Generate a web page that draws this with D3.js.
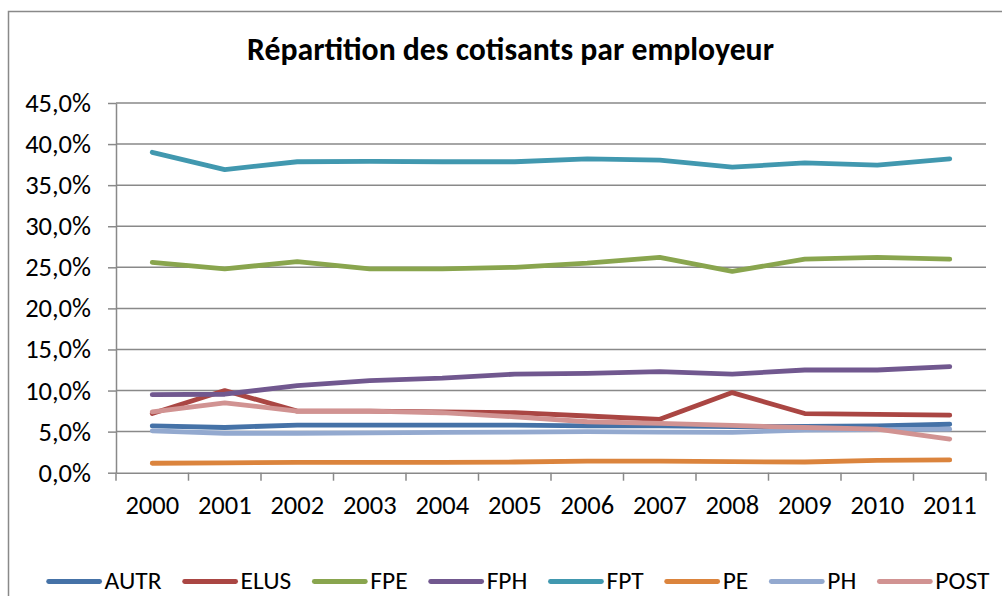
<!DOCTYPE html>
<html lang="fr">
<head>
	<meta charset="UTF-8">
	<title>Répartition des cotisants par employeur</title>
	<script type="text/javascript" src="https://cdn.jsdelivr.net/npm/d3@7"></script>
	<style>
		html, body { margin: 0; padding: 0; background: #fff; }
		svg { display: block; font-family: Calibri, Carlito, "Open Sans", sans-serif; }
	</style>
</head>
<body>
	<svg></svg>

	<script type="text/javascript">
		var width = 1002;
		var height = 596;

		// categories and tick labels
		var years = ["2000", "2001", "2002", "2003", "2004", "2005", "2006", "2007", "2008", "2009", "2010", "2011"];
		var yTicks = [0, 5, 10, 15, 20, 25, 30, 35, 40, 45];

		// series values (% of contributors)
		var autr = [5.7, 5.5, 5.8, 5.8, 5.8, 5.8, 5.7, 5.7, 5.6, 5.65, 5.7, 5.9];
		var elus = [7.2, 10.0, 7.5, 7.5, 7.4, 7.3, 6.9, 6.5, 9.75, 7.2, 7.1, 7.0];
		var fpe = [25.6, 24.8, 25.7, 24.8, 24.8, 25.0, 25.5, 26.2, 24.5, 26.0, 26.2, 26.0];
		var fph = [9.5, 9.55, 10.6, 11.2, 11.5, 12.0, 12.1, 12.3, 12.0, 12.5, 12.5, 12.9];
		var fpt = [39.0, 36.9, 37.85, 37.9, 37.85, 37.85, 38.2, 38.05, 37.2, 37.7, 37.45, 38.2];
		var pe = [1.15, 1.2, 1.25, 1.25, 1.25, 1.3, 1.4, 1.4, 1.35, 1.3, 1.5, 1.55];
		var ph = [5.1, 4.8, 4.8, 4.85, 4.9, 4.95, 5.0, 4.95, 4.9, 5.2, 5.25, 5.3];
		var post = [7.4, 8.5, 7.5, 7.5, 7.3, 6.8, 6.2, 6.0, 5.75, 5.5, 5.3, 4.1];

		var seriesNames = ["AUTR", "ELUS", "FPE", "FPH", "FPT", "PE", "PH", "POST"];
		var seriesValues = [autr, elus, fpe, fph, fpt, pe, ph, post];
		var seriesColors = ["#4572A7", "#AA4643", "#89A54E", "#71588F", "#4198AF", "#DB843D", "#93A9CF", "#D19392"];

		var titleText = "Répartition des cotisants par employeur";

		var gray = "#898989";
		var fontStack = "Calibri, Carlito, 'Open Sans', sans-serif";
		var svg = d3.select("svg").attr("width", width).attr("height", height);

		function fmtPct(d) {
			return d.toFixed(1).replace(".", ",") + "%";
		}

		function draw() {
			var plot = {left: 116, right: 986, top: 103, bottom: 472.7};

			// chart frame
			svg.append("rect")
				.attr("x", 8.5).attr("y", 11.5)
				.attr("width", 1040).attr("height", 620)
				.attr("fill", "#fff")
				.attr("stroke", gray).attr("stroke-width", 1.5);

			var x = d3.scaleBand().domain(years).range([plot.left, plot.right]).padding(0);
			var y = d3.scaleLinear().domain([0, 45]).range([plot.bottom, plot.top]);

			// title, fitted to the width of the original
			var title = svg.append("text")
				.attr("x", 510.5).attr("y", 60)
				.attr("text-anchor", "middle")
				.attr("font-weight", "bold")
				.attr("font-size", 23)
				.attr("fill", "#000")
				.text(titleText);
			var tw = title.node().getComputedTextLength();
			title.attr("font-size", 23 * 527 / tw);

			// horizontal gridlines
			svg.append("g").selectAll("line")
				.data(yTicks.filter(function(d) { return d > 0; }))
				.enter().append("line")
				.attr("x1", plot.left).attr("x2", plot.right)
				.attr("y1", function(d) { return y(d); })
				.attr("y2", function(d) { return y(d); })
				.attr("stroke", gray).attr("stroke-width", 1.5);

			// y axis
			var axisY = d3.axisLeft(y)
				.tickValues(yTicks)
				.tickSize(8)
				.tickSizeOuter(0)
				.tickPadding(17)
				.tickFormat(fmtPct);
			var gy = svg.append("g")
				.attr("transform", "translate(" + plot.left + ",0)")
				.call(axisY);
			gy.selectAll("path, line").attr("stroke", gray).attr("stroke-width", 1.5);
			gy.selectAll("text").attr("font-size", 26.5).attr("fill", "#000")
				.style("font-family", fontStack);

			// x axis: labels at band centres, ticks at band edges
			var axisX = d3.axisBottom(x).tickSize(0).tickSizeOuter(0).tickPadding(22);
			var gx = svg.append("g")
				.attr("transform", "translate(0," + plot.bottom + ")")
				.call(axisX);
			gx.select(".domain").attr("stroke", gray).attr("stroke-width", 1.5);
			gx.selectAll("text").attr("font-size", 26.5).attr("fill", "#000")
				.style("font-family", fontStack);
			var edges = years.map(function(d) { return x(d); }).concat([plot.right]);
			gx.selectAll("line.edge").data(edges).enter().append("line")
				.attr("class", "edge")
				.attr("x1", function(d) { return d; }).attr("x2", function(d) { return d; })
				.attr("y1", 0).attr("y2", 8)
				.attr("stroke", gray).attr("stroke-width", 1.5);

			// series lines
			var line = d3.line()
				.x(function(d, i) { return x(years[i]) + x.bandwidth() / 2; })
				.y(function(d) { return y(d); });
			svg.append("g").selectAll("path")
				.data(seriesValues)
				.enter().append("path")
				.attr("d", function(d) { return line(d); })
				.attr("fill", "none")
				.attr("stroke", function(d, i) { return seriesColors[i]; })
				.attr("stroke-width", 4.8)
				.attr("stroke-linecap", "round")
				.attr("stroke-linejoin", "round");

			// legend, laid out left to right and centred
			var legY = 581.5;
			var lineLen = 55, gapText = 3, gapItem = 21;
			var leg = svg.append("g");
			var items = leg.selectAll("g").data(seriesNames).enter().append("g");
			items.append("text")
				.attr("font-size", 25.5)
				.attr("fill", "#000")
				.attr("y", 589)
				.text(function(d) { return d; });
			var widths = [];
			items.select("text").each(function() { widths.push(this.getComputedTextLength()); });
			var total = 0;
			widths.forEach(function(w, i) { total += lineLen + gapText + w + (i < widths.length - 1 ? gapItem : 0); });
			var cx = 518 - total / 2;
			items.each(function(d, i) {
				var g = d3.select(this);
				g.append("line")
					.attr("x1", cx + 2).attr("x2", cx + lineLen - 2)
					.attr("y1", legY).attr("y2", legY)
					.attr("stroke", seriesColors[i])
					.attr("stroke-width", 4.8)
					.attr("stroke-linecap", "round");
				g.select("text").attr("x", cx + lineLen + gapText);
				cx += lineLen + gapText + widths[i] + gapItem;
			});
		}

		draw();
	</script>
</body>
</html>
